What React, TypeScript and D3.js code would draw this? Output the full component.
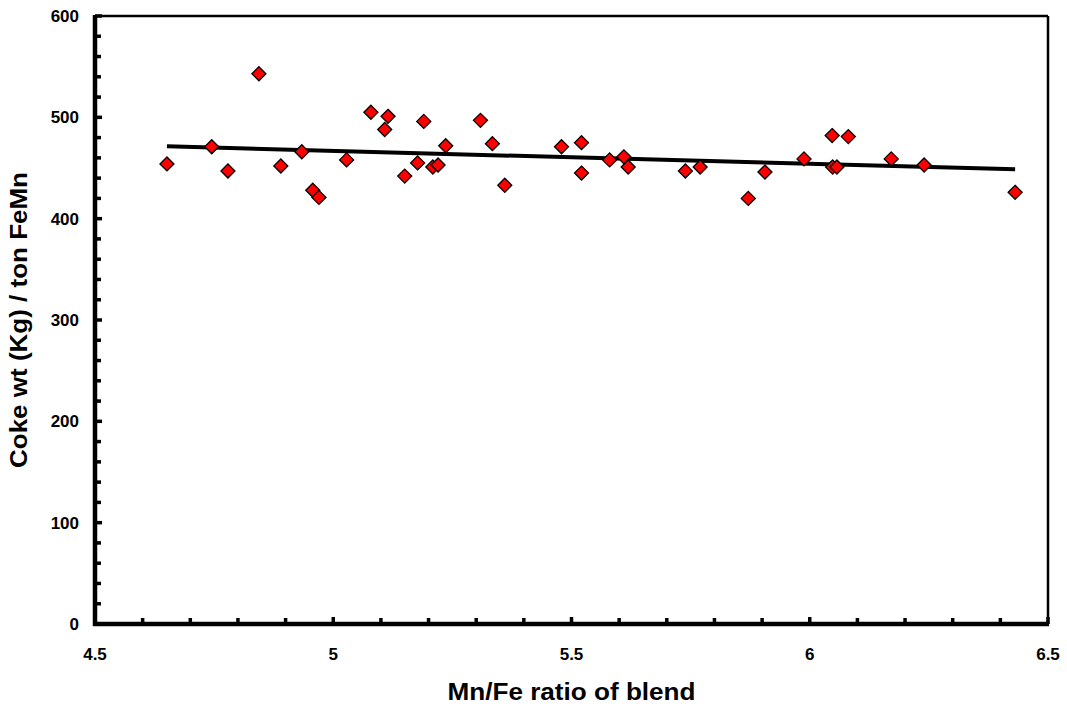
import React, { useRef, useEffect } from 'react';
import * as d3 from 'd3';

// Mn/Fe ratio of blend vs coke consumption
const mnFeRatio = [
  4.651, 4.745, 4.779, 4.844, 4.890, 4.934, 4.957, 4.970, 5.028, 5.079,
  5.115, 5.108, 5.150, 5.190, 5.177, 5.209, 5.220, 5.236, 5.309, 5.334,
  5.360, 5.479, 5.521, 5.521, 5.580, 5.610, 5.619, 5.739, 5.770, 5.871,
  5.906, 5.988, 6.047, 6.048, 6.057, 6.081, 6.171, 6.240, 6.431,
];
const cokeWt = [
  454, 471, 447, 543, 452, 466, 428, 421, 458, 505,
  501, 488, 442, 496, 455, 451, 453, 472, 497, 474,
  433, 471, 475, 445, 458, 461, 451, 447, 451, 420,
  446, 459, 482, 451, 451, 481, 459, 453, 426,
];

const xTicks = [4.5, 5, 5.5, 6, 6.5];
const yTicks = [0, 100, 200, 300, 400, 500, 600];

const xTitle = 'Mn/Fe ratio of blend';
const yTitle = 'Coke wt (Kg) / ton FeMn';

const App = () => {
  const ref = useRef(null);

  useEffect(() => {
    drawChart();
  }, []);

  const drawChart = () => {
    const width = 1067;
    const height = 711;
    const margin = { top: 16, right: 19, bottom: 87, left: 95 };
    const font = '"Liberation Sans", Arial, sans-serif';

    const svg = d3.select(ref.current);
    svg.selectAll('*').remove();
    svg.attr('width', width).attr('height', height).style('background', '#fff');

    const x = d3.scaleLinear()
      .domain([4.5, 6.5])
      .range([margin.left, width - margin.right]);
    const y = d3.scaleLinear()
      .domain([0, 600])
      .range([height - margin.bottom, margin.top]);

    // thin frame on top and right
    svg.append('line')
      .attr('x1', x(4.5)).attr('x2', x(6.5))
      .attr('y1', y(600)).attr('y2', y(600))
      .attr('stroke', '#000').attr('stroke-width', 2.5);
    svg.append('line')
      .attr('x1', x(6.5)).attr('x2', x(6.5))
      .attr('y1', y(600)).attr('y2', y(0))
      .attr('stroke', '#000').attr('stroke-width', 2.5);

    // minor + major ticks, pointing into the plot
    const xMinor = d3.range(45, 66).map(d => d / 10);
    svg.selectAll('line.xtick')
      .data(xMinor)
      .enter()
      .append('line')
      .attr('class', 'xtick')
      .attr('x1', d => x(d)).attr('x2', d => x(d))
      .attr('y1', y(0))
      .attr('y2', d => y(0) - (Math.abs(d * 2 - Math.round(d * 2)) < 1e-6 ? 7 : 6))
      .attr('stroke', '#000').attr('stroke-width', 3.5);

    const yMinor = d3.range(0, 601, 20);
    svg.selectAll('line.ytick')
      .data(yMinor)
      .enter()
      .append('line')
      .attr('class', 'ytick')
      .attr('x1', x(4.5))
      .attr('x2', d => x(4.5) + (d % 100 === 0 ? 7 : 6))
      .attr('y1', d => y(d)).attr('y2', d => y(d))
      .attr('stroke', '#000').attr('stroke-width', 3.5);

    // left and bottom axis lines
    svg.append('line')
      .attr('x1', x(4.5)).attr('x2', x(4.5))
      .attr('y1', y(600) - 1).attr('y2', y(0) + 2)
      .attr('stroke', '#000').attr('stroke-width', 4.5);
    svg.append('line')
      .attr('x1', x(4.5) - 2).attr('x2', x(6.5) + 1)
      .attr('y1', y(0)).attr('y2', y(0))
      .attr('stroke', '#000').attr('stroke-width', 4.5);

    // tick labels
    svg.selectAll('text.xlabel')
      .data(xTicks)
      .enter()
      .append('text')
      .attr('class', 'xlabel')
      .attr('x', d => x(d))
      .attr('y', y(0) + 36)
      .attr('text-anchor', 'middle')
      .attr('font-family', font)
      .attr('font-weight', 'bold')
      .attr('font-size', 17)
      .text(d => String(d));

    svg.selectAll('text.ylabel')
      .data(yTicks)
      .enter()
      .append('text')
      .attr('class', 'ylabel')
      .attr('x', x(4.5) - 16)
      .attr('y', d => y(d) + 6)
      .attr('text-anchor', 'end')
      .attr('font-family', font)
      .attr('font-weight', 'bold')
      .attr('font-size', 17)
      .text(d => d);

    // axis titles
    svg.append('text')
      .attr('x', (x(4.5) + x(6.5)) / 2)
      .attr('y', 700)
      .attr('text-anchor', 'middle')
      .attr('font-family', font)
      .attr('font-weight', 'bold')
      .attr('font-size', 24)
      .attr('textLength', 248)
      .attr('lengthAdjust', 'spacingAndGlyphs')
      .text(xTitle);

    svg.append('text')
      .attr('transform', `translate(27,${(y(0) + y(600)) / 2}) rotate(-90)`)
      .attr('text-anchor', 'middle')
      .attr('font-family', font)
      .attr('font-weight', 'bold')
      .attr('font-size', 24)
      .attr('textLength', 296)
      .attr('lengthAdjust', 'spacingAndGlyphs')
      .text(yTitle);

    // linear trend line (least squares over the points)
    const n = mnFeRatio.length;
    const mx = d3.mean(mnFeRatio);
    const my = d3.mean(cokeWt);
    let sxy = 0;
    let sxx = 0;
    for (let i = 0; i < n; i++) {
      sxy += (mnFeRatio[i] - mx) * (cokeWt[i] - my);
      sxx += (mnFeRatio[i] - mx) * (mnFeRatio[i] - mx);
    }
    const slope = sxy / sxx;
    const icpt = my - slope * mx;
    const [x0, x1] = d3.extent(mnFeRatio);

    svg.append('line')
      .attr('x1', x(x0)).attr('x2', x(x1))
      .attr('y1', y(icpt + slope * x0)).attr('y2', y(icpt + slope * x1))
      .attr('stroke', '#000').attr('stroke-width', 4);

    // diamond markers
    const diamond = 'M0,-7L7,0L0,7L-7,0Z';
    svg.selectAll('path.pt')
      .data(mnFeRatio)
      .enter()
      .append('path')
      .attr('class', 'pt')
      .attr('d', diamond)
      .attr('transform', (d, i) => `translate(${x(d)},${y(cokeWt[i])})`)
      .attr('fill', '#ff0000')
      .attr('stroke', '#000')
      .attr('stroke-width', 1.3);
  };

  return (
    <div>
      <svg ref={ref} style={{ position: 'absolute', left: 0, top: 0 }}></svg>
    </div>
  );
};

export default App;
